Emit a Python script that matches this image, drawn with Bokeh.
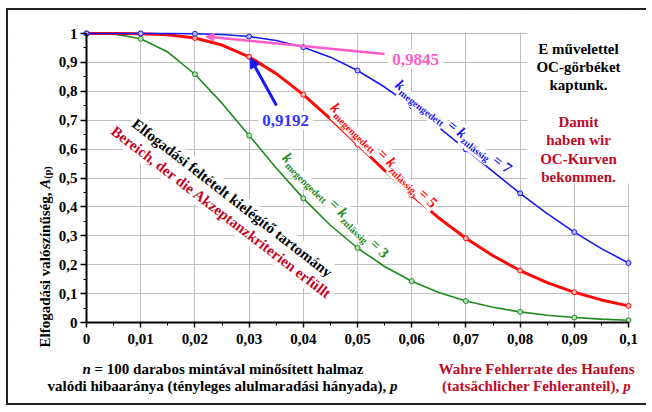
import math
from bokeh.plotting import figure
from bokeh.models import (Range1d, FixedTicker, CustomJSTickFormatter, Label, Arrow,
                          NormalHead, BoxAnnotation, ColumnDataSource)
from bokeh.embed import file_html
from bokeh.resources import INLINE

# ---------------- data ----------------
p_vals = [0.000, 0.005, 0.010, 0.015, 0.020, 0.025, 0.030, 0.035, 0.040, 0.045, 0.050,
          0.055, 0.060, 0.065, 0.070, 0.075, 0.080, 0.085, 0.090, 0.095, 0.100]
acc_k3 = [1.0000, 0.9983, 0.9816, 0.9358, 0.8590, 0.7590, 0.6472, 0.5347, 0.4295, 0.3365, 0.2578,
          0.1937, 0.1430, 0.1039, 0.0744, 0.0526, 0.0367, 0.0253, 0.0173, 0.0117, 0.0078]
acc_k5 = [1.0000, 1.0000, 0.9995, 0.9959, 0.9845, 0.9601, 0.9192, 0.8611, 0.7884, 0.7050, 0.6160,
          0.5264, 0.4407, 0.3617, 0.2914, 0.2308, 0.1799, 0.1381, 0.1045, 0.0781, 0.0576]
acc_k7 = [1.0000, 1.0000, 1.0000, 0.9999, 0.9991, 0.9963, 0.9894, 0.9755, 0.9525, 0.9182, 0.8720,
          0.8147, 0.7483, 0.6753, 0.5988, 0.5218, 0.4471, 0.3769, 0.3128, 0.2557, 0.2061]
k_values = [3, 5, 7]

x_ticks = [0, 0.01, 0.02, 0.03, 0.04, 0.05, 0.06, 0.07, 0.08, 0.09, 0.1]
x_tick_labels = ["0", "0,01", "0,02", "0,03", "0,04", "0,05", "0,06", "0,07", "0,08", "0,09", "0,1"]
y_ticks = [0, 0.1, 0.2, 0.3, 0.4, 0.5, 0.6, 0.7, 0.8, 0.9, 1]
y_tick_labels = ["0", "0,1", "0,2", "0,3", "0,4", "0,5", "0,6", "0,7", "0,8", "0,9", "1"]

GREEN = "#1F8A1F"
RED = "#FF0A0A"
BLUE = "#1818F0"
PINK = "#FF5CC8"
LBLUE = "#3434FF"
DKRED = "#C00A28"
SERIF = "Liberation Serif"

# page-pixel geometry: canvas origin and where x=0 / x=0.1, y=0 / y=1 sit
OX, OY, W, H = 8, 10, 640, 397
X0, X1, Y0, Y1 = 86.0, 628.0, 322.0, 33.0
XS = 0.1 / (X1 - X0)
YS = 1.0 / (Y0 - Y1)


def to_data(X, Y):
    return (X - X0) * XS, (Y0 - Y) * YS


xs0, ys1 = to_data(OX, OY)
xs1, ys0 = to_data(OX + W, OY + H)

# ---------------- figure ----------------
p = figure(width=W, height=H, x_range=Range1d(xs0, xs1), y_range=Range1d(ys0, ys1),
           output_backend="svg", toolbar_location=None,
           min_border_left=0, min_border_right=0, min_border_top=0, min_border_bottom=0)
p.styles = {"margin-left": "6px", "margin-top": "8px",
            "border-left": "2px solid #222", "border-top": "2px solid #222",
            "border-bottom": "2px solid #222"}
p.outline_line_color = None
p.background_fill_color = "white"
p.border_fill_color = "white"


def make_formatter(tvals, tlabels):
    return CustomJSTickFormatter(args=dict(tvals=tvals, tlabels=tlabels), code="""
        let best = 0;
        for (let i = 0; i < tvals.length; i++) {
            if (Math.abs(tvals[i] - tick) < Math.abs(tvals[best] - tick)) best = i;
        }
        return tlabels[best];
    """)


x_minor = [t + 0.005 for t in x_ticks[:-1]]
y_minor = [t + 0.05 for t in y_ticks[:-1]]
xt = FixedTicker(ticks=x_ticks, minor_ticks=x_minor)
yt = FixedTicker(ticks=y_ticks, minor_ticks=y_minor)
p.xaxis.ticker = xt
p.yaxis.ticker = yt
p.xgrid.ticker = xt
p.ygrid.ticker = yt
p.xaxis.formatter = make_formatter(x_ticks, x_tick_labels)
p.yaxis.formatter = make_formatter(y_ticks, y_tick_labels)
p.xaxis.fixed_location = 0
p.yaxis.fixed_location = 0
p.xaxis.bounds = (x_ticks[0], x_ticks[-1])
p.yaxis.bounds = (y_ticks[0], y_ticks[-1])

for ax in (p.xaxis[0], p.yaxis[0]):
    ax.axis_line_color = "black"
    ax.axis_line_width = 2
    ax.major_tick_line_color = "black"
    ax.major_tick_line_width = 1.5
    ax.major_tick_in = 0
    ax.minor_tick_line_color = "black"
    ax.minor_tick_line_width = 1
    ax.minor_tick_in = 0
    ax.minor_tick_out = 3
    ax.major_label_text_font = SERIF
    ax.major_label_text_font_size = "15px"
    ax.major_label_text_font_style = "bold"
    ax.major_label_text_color = "black"
p.xaxis.major_tick_out = 5
p.yaxis.major_tick_out = 6
p.xaxis.major_label_standoff = 6
p.yaxis.major_label_standoff = 3

for g in (p.xgrid[0], p.ygrid[0]):
    g.grid_line_color = "#C0C0C0"
    g.grid_line_width = 1

# white masks: keep the grid inside the chart area, and clear it behind the right-hand text
px1 = XS * 1.0
py1 = YS * 1.0
for kw in (dict(right=x_ticks[0] - px1), dict(left=x_ticks[-1] + px1),
           dict(top=y_ticks[0] - py1), dict(bottom=y_ticks[-1] + py1),
           dict(left=to_data(527, 0)[0], bottom=to_data(0, 183)[1])):
    p.add_layout(BoxAnnotation(fill_color="white", fill_alpha=1.0, line_color=None,
                               level="underlay", **kw))

# ---------------- curves ----------------
src = ColumnDataSource(dict(p=p_vals, k3=acc_k3, k5=acc_k5, k7=acc_k7))
msrc = ColumnDataSource(dict(p=p_vals[::2], k3=acc_k3[::2], k5=acc_k5[::2], k7=acc_k7[::2]))

p.line("p", "k3", source=src, line_color=GREEN, line_width=1.6)
p.line("p", "k5", source=src, line_color=RED, line_width=3)
p.line("p", "k7", source=src, line_color=BLUE, line_width=1.6)
p.scatter("p", "k3", source=msrc, size=5, line_color=GREEN, fill_color="#B5E0B5", line_width=1)
p.scatter("p", "k5", source=msrc, size=5, line_color=RED, fill_color="#FFB8B8", line_width=1)
p.scatter("p", "k7", source=msrc, size=5, line_color=BLUE, fill_color="#B8B8FF", line_width=1)


# ---------------- texts ----------------
def add_text(X, Y, text, size=15, color="black", style="bold", angle=0.0,
             align="left", baseline="alphabetic", bg=None, pad=0):
    x, y = to_data(X, Y)
    lab = Label(x=x, y=y, text=text, angle=math.radians(angle),
                text_font=SERIF, text_font_size=f"{size}px", text_font_style=style,
                text_color=color, text_align=align, text_baseline=baseline)
    if bg is not None:
        lab.background_fill_color = bg
        lab.background_fill_alpha = 1.0
        lab.padding = pad
    p.add_layout(lab)


def chain(Xs, Ys, angle, pieces, color, bg=None, pad=1):
    """Place text pieces one after another along a (possibly rotated) baseline."""
    a = math.radians(angle)
    ux, uy = math.cos(a), -math.sin(a)
    dxv, dyv = -uy, ux
    adv = 0.0
    for text, size, style, sub, w in pieces:
        lead = (len(text) - len(text.lstrip(" "))) * 0.25 * size
        X = Xs + (adv + lead) * ux + sub * dxv
        Y = Ys + (adv + lead) * uy + sub * dyv
        add_text(X, Y, text.strip(" "), size, color, style, angle, bg=bg, pad=pad)
        adv += w


def k_pieces(n):
    return [("k", 15, "bold italic", 0, 7.5),
            ("megengedett", 10, "bold", 5, 54.5),
            (" = ", 15, "bold", 0, 16.0),
            ("k", 15, "bold italic", 0, 7.5),
            ("zulässig", 10, "bold", 5, 33.8),
            (f" = {n}", 15, "bold", 0, 23.5)]


chain(283.8, 153.9, -44.6, k_pieces(k_values[0]), GREEN, bg="white")
chain(331.8, 104.0, -44.4, k_pieces(k_values[1]), RED, bg="white")
chain(396.0, 81.7, -37.7, k_pieces(k_values[2]), BLUE, bg="white")

# diagonal region texts
add_text(231.7, 197.5, "Elfogadási feltételt kielégítő tartomány", 15, "black", "bold",
         -37.8, align="center", baseline="middle", bg="white", pad=2)
add_text(221.0, 212.0, "Bereich, der die Akzeptanzkriterien erfüllt", 15, DKRED, "bold",
         -37.5, align="center", baseline="middle", bg="white", pad=2)

# annotated values with arrows
v1 = f"{acc_k5[4]:.4f}".replace(".", ",")
v2 = f"{acc_k5[6]:.4f}".replace(".", ",")
add_text(415, 58.5, v1, 17, PINK, "bold", align="center", baseline="middle", bg="white", pad=4)
add_text(285, 120, v2, 17, LBLUE, "bold", align="center", baseline="middle", bg="white", pad=4)

sx, sy = to_data(384, 53.5)
p.add_layout(Arrow(end=NormalHead(size=8, fill_color=PINK, line_color=PINK),
                   x_start=sx, y_start=sy,
                   x_end=p_vals[4] + 11.0 * XS, y_end=acc_k5[4] + 1.5 * YS,
                   line_color=PINK, line_width=2.5))
sx, sy = to_data(276, 105)
p.add_layout(Arrow(end=NormalHead(size=10, fill_color=BLUE, line_color=BLUE),
                   x_start=sx, y_start=sy,
                   x_end=p_vals[6] + 1.0 * XS, y_end=acc_k5[6] - 1.0 * YS,
                   line_color=BLUE, line_width=3))

# right-hand text block
for i, line in enumerate(["E művelettel", "OC-görbéket", "kaptunk."]):
    add_text(578, 48 + 18 * i, line, 15, "black", "bold", align="center")
for i, line in enumerate(["Damit", "haben wir", "OC-Kurven", "bekommen."]):
    add_text(578, 121.5 + 18.3 * i, line, 15, DKRED, "bold", align="center")

# y-axis title
chain(44, 347, 90, [("Elfogadási valószínűség, ", 15, "bold", 0, 158.8),
                    ("A", 15, "bold italic", 0, 10.0),
                    ("(p)", 10, "bold", 3, 12.0)], "black")

# x-axis titles (left: Hungarian, right: German)
add_text(363, 368, "= 100 darabos mintával minősített halmaz", 15, "black", "bold", align="right")
add_text(363 - 269 - 3.75, 368, "n", 15, "black", "bold italic", align="right")
chain(47, 385, 0, [("valódi hibaaránya (tényleges alulmaradási hányada), ", 15, "bold", 0, 342.5),
                   ("p", 15, "bold italic", 0, 7.5)], "black")
add_text(536, 368, "Wahre Fehlerrate des Haufens", 15, DKRED, "bold", align="center")
chain(441.6, 385, 0, [("(tatsächlicher Fehleranteil), ", 15, "bold", 0, 181.2),
                      ("p", 15, "bold italic", 0, 7.5)], DKRED)

open("out.html", "w").write(file_html(p, INLINE))
